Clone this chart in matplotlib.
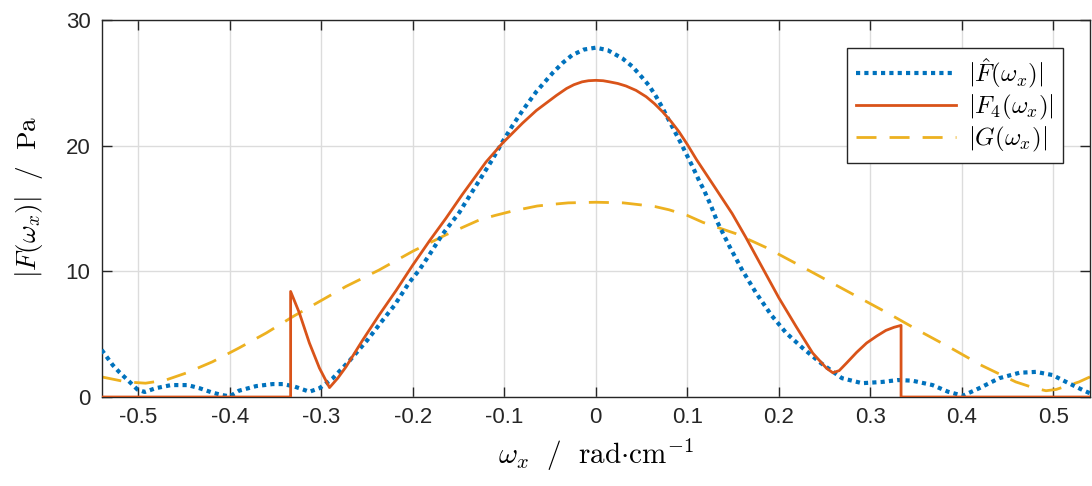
import numpy as np
import matplotlib
matplotlib.use("Agg")
from matplotlib import pyplot as plt

plt.rcParams['mathtext.fontset'] = 'cm'
plt.rcParams['font.family'] = ['Liberation Sans', 'DejaVu Sans']
plt.rcParams['axes.unicode_minus'] = False

# |F_hat(w_x)|
w_hat = [-0.540, -0.528, -0.521, -0.508, -0.501, -0.493, -0.481, -0.464, -0.446, -0.433,
         -0.419, -0.408, -0.400, -0.390, -0.371, -0.353, -0.342, -0.330, -0.324, -0.313,
         -0.302, -0.288, -0.269, -0.250, -0.233, -0.220, -0.204, -0.193, -0.182, -0.168,
         -0.149, -0.144, -0.125, -0.113, -0.102, -0.091, -0.080, -0.065, -0.047, -0.036,
         -0.026, -0.013, 0.000, 0.013, 0.029, 0.040, 0.051, 0.058, 0.066, 0.073,
         0.080, 0.093, 0.106, 0.113, 0.118, 0.126, 0.133, 0.146, 0.160, 0.175,
         0.192, 0.208, 0.226, 0.246, 0.269, 0.291, 0.313, 0.330, 0.346, 0.368,
         0.385, 0.401, 0.419, 0.441, 0.463, 0.481, 0.499, 0.514, 0.532, 0.540]
F_hat = [3.75, 2.55, 2.0, 1.1, 0.6, 0.4, 0.7, 0.95, 0.95, 0.7,
         0.35, 0.15, 0.05, 0.5, 0.87, 1.03, 1.03, 0.85, 0.7, 0.42,
         0.7, 1.45, 2.9, 4.5, 6.1, 7.3, 9.1, 10.1, 11.3, 12.9,
         14.7, 15.3, 17.5, 18.9, 20.3, 21.6, 22.8, 24.3, 25.8, 26.6,
         27.2, 27.65, 27.8, 27.6, 26.95, 26.3, 25.4, 24.8, 23.9, 23.0,
         22.0, 20.2, 18.3, 17.2, 16.5, 15.2, 13.9, 12.0, 10.1, 8.3,
         6.5, 5.1, 3.9, 2.7, 1.5, 1.1, 1.2, 1.35, 1.3, 0.95,
         0.42, 0.1, 0.7, 1.5, 1.93, 2.0, 1.75, 1.2, 0.56, 0.3]

# |F_4(w_x)|
w_4 = [-0.540, -0.3335, -0.3335, -0.324, -0.313, -0.302, -0.291, -0.282, -0.273, -0.255,
       -0.237, -0.218, -0.200, -0.182, -0.164, -0.146, -0.133, -0.120, -0.102, -0.080,
       -0.065, -0.054, -0.043, -0.032, -0.024, -0.015, -0.008, 0.000, 0.008, 0.015,
       0.024, 0.033, 0.044, 0.055, 0.064, 0.073, 0.082, 0.091, 0.100, 0.110,
       0.130, 0.149, 0.164, 0.182, 0.200, 0.219, 0.237, 0.252, 0.259, 0.266,
       0.274, 0.285, 0.296, 0.307, 0.317, 0.326, 0.3336, 0.3336, 0.540]
F_4 = [0.0, 0.0, 8.4, 6.7, 4.3, 2.3, 0.75, 1.5, 2.4, 4.5,
       6.5, 8.5, 10.5, 12.4, 14.2, 16.1, 17.4, 18.7, 20.2, 21.8,
       22.8, 23.4, 24.0, 24.55, 24.85, 25.08, 25.17, 25.2, 25.17, 25.08,
       24.95, 24.75, 24.4, 23.9, 23.35, 22.7, 21.95, 21.1, 20.1, 18.9,
       16.7, 14.6, 12.7, 10.3, 7.9, 5.6, 3.5, 2.3, 1.93, 2.1,
       2.7, 3.55, 4.3, 4.85, 5.3, 5.55, 5.7, 0.0, 0.0]

# |G(w_x)|
w_g = [-0.540, -0.513, -0.492, -0.470, -0.448, -0.419, -0.390, -0.360, -0.331, -0.302,
       -0.273, -0.237, -0.200, -0.164, -0.127, -0.110, -0.091, -0.064, -0.045, -0.030,
       0.000, 0.030, 0.048, 0.065, 0.080, 0.100, 0.117, 0.135, 0.153, 0.186,
       0.222, 0.255, 0.288, 0.321, 0.355, 0.388, 0.422, 0.459, 0.480, 0.492,
       0.503, 0.528, 0.540]
G = [1.6, 1.2, 1.1, 1.35, 1.9, 2.8, 3.9, 5.1, 6.4, 7.6,
     8.8, 10.1, 11.6, 12.9, 14.1, 14.45, 14.8, 15.2, 15.35, 15.45,
     15.5, 15.45, 15.3, 15.15, 14.9, 14.45, 13.9, 13.45, 13.0, 11.9,
     10.5, 9.2, 7.9, 6.6, 5.2, 3.9, 2.5, 1.2, 0.7, 0.5,
     0.6, 1.2, 1.6]

xticks = [-0.5, -0.4, -0.3, -0.2, -0.1, 0.0, 0.1, 0.2, 0.3, 0.4, 0.5]
xtick_labels = ['-0.5', '-0.4', '-0.3', '-0.2', '-0.1', '0', '0.1', '0.2', '0.3', '0.4', '0.5']
yticks = [0, 10, 20, 30]

fig = plt.figure(figsize=(10.92, 4.86), dpi=100)
ax = fig.add_axes([0.0931, 0.1831, 0.905, 0.7757])

ax.plot(w_hat, F_hat, color='#0072BD', lw=3, linestyle=(0, (1, 1)),
        dash_capstyle='butt', label=r'$|\hat{F}(\omega_x)|$', zorder=3)
ax.plot(w_4, F_4, color='#D95319', lw=2, label=r'$|F_4(\omega_x)|$', zorder=4)
ax.plot(w_g, G, color='#EDB120', lw=2, linestyle=(0, (7.2, 4.7)),
        label=r'$|G(\omega_x)|$', zorder=2)

ax.set_xlim(-0.54, 0.54)
ax.set_ylim(0, 30)
ax.set_xticks(xticks)
ax.set_xticklabels(xtick_labels)
ax.set_yticks(yticks)
ax.grid(True, color='#dcdcdc', lw=1)
ax.set_axisbelow(True)
ax.tick_params(direction='in', length=7, width=1, top=True, right=True,
               labelsize=16, colors='#262626')
ax.tick_params(axis='x', pad=7)
ax.tick_params(axis='y', pad=8)
for s in ax.spines.values():
    s.set_color('#262626')
    s.set_linewidth(1)

ax.set_xlabel(r'$\omega_x\ \ /\ \ \mathrm{rad{\cdot}cm}^{-1}$', fontsize=21)
ax.set_ylabel(r'$|F(\omega_x)|\ \ /\ \ \mathrm{Pa}$', fontsize=19.5)
ax.xaxis.set_label_coords(0.5, -0.105)
ax.yaxis.set_label_coords(-0.057, 0.53)

leg = ax.legend(loc='upper right', fontsize=18, handlelength=4.0, fancybox=False,
                framealpha=1, edgecolor='#262626', bbox_to_anchor=(0.9727, 0.926),
                borderaxespad=0, borderpad=0.35, labelspacing=0.1, handletextpad=0.5)
leg.get_frame().set_linewidth(1)

fig.savefig('out.png', dpi=100)
